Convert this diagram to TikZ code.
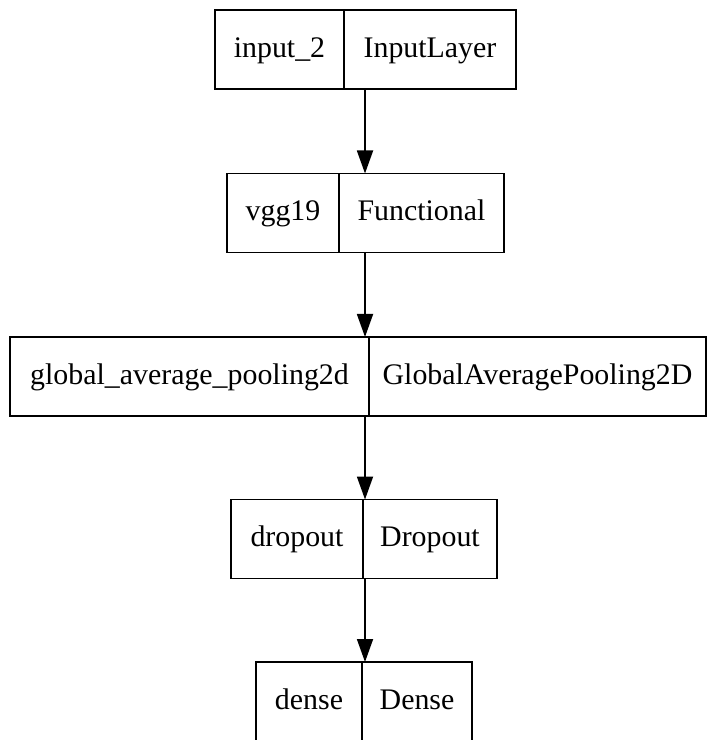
\documentclass[tikz,border=0pt]{standalone}
\usepackage{fontspec}
\setmainfont{Liberation Serif}
\usetikzlibrary{arrows.meta, positioning}
\tikzset{
	layerbox/.style={draw, line width=0.5pt, inner sep=0pt, outer sep=0pt, minimum height=0.79cm,
		text height=6.5pt, text depth=2pt, font=\fontsize{8.5}{10}\selectfont}
}
\tikzset{
	flow/.style={line width=0.5pt, -{Triangle[length=2.3mm, width=1.6mm]}}
}

\begin{document}
\begin{tikzpicture}
      \useasboundingbox (0,0) rectangle (7.09,-7.40);
      \coordinate (spine) at (3.65,0);
      % input layer
      \node[layerbox, minimum width=1.29cm] (inputname) at (2.795,-0.495) {input\_2};
      \node[layerbox, minimum width=1.72cm, anchor=west] (inputtype) at (inputname.east) {InputLayer};
      % backbone
      \node[layerbox, minimum width=1.12cm] (vggname) at (2.83,-2.13) {vgg19};
      \node[layerbox, minimum width=1.65cm, anchor=west] (vggtype) at (vggname.east) {Functional};
      % pooling
      \node[layerbox, minimum width=3.59cm] (gapname) at (1.895,-3.765) {global\_average\_pooling2d};
      \node[layerbox, minimum width=3.37cm, anchor=west] (gaptype) at (gapname.east) {GlobalAveragePooling2D};
      % dropout
      \node[layerbox, minimum width=1.32cm] (dropoutname) at (2.97,-5.39) {dropout};
      \node[layerbox, minimum width=1.34cm, anchor=west] (dropouttype) at (dropoutname.east) {Dropout};
      % dense (cut at the bottom)
      \node[layerbox, minimum width=1.06cm, minimum height=0.80cm] (densename) at (3.09,-7.02) {dense};
      \node[layerbox, minimum width=1.10cm, minimum height=0.80cm, anchor=west] (densetype) at (densename.east) {Dense};
      % edges
      \draw[flow] (inputtype.south -| spine) -- (vggtype.north -| spine);
      \draw[flow] (vggtype.south -| spine) -- (gapname.north -| spine);
      \draw[flow] (gapname.south -| spine) -- (dropouttype.north -| spine);
      \draw[flow] (dropouttype.south -| spine) -- (densetype.north -| spine);
    \end{tikzpicture}
\end{document}
